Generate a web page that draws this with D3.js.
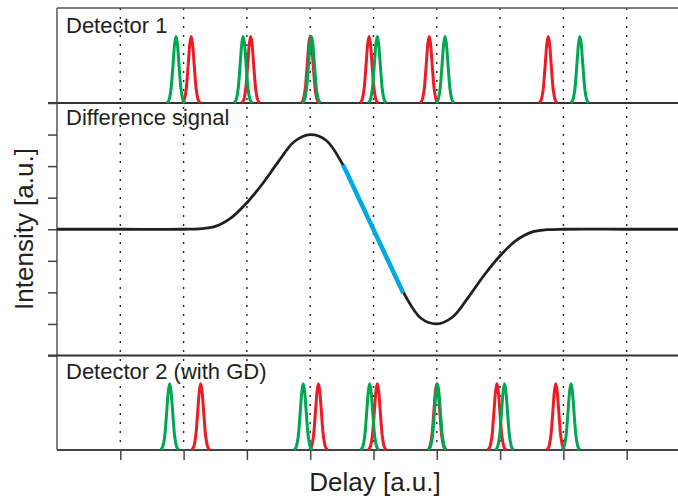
<!DOCTYPE html>
<html>
<head>
<meta charset="utf-8">
<script src="https://cdn.jsdelivr.net/npm/d3@7"></script>
<style>
  body { margin: 0; background: #fff; }
  svg { display: block; font-family: "Liberation Sans", Arial, sans-serif; }
  .label { fill: #231f20; }
</style>
</head>
<body>
<svg width="678" height="498"></svg>
<script>
// delay grid (dotted lines + bottom ticks)
const delayTicks = [1, 2, 3, 4, 5, 6, 7, 8, 9];
const intensityTicks = [-4, -3, -2, -1, 0, 1, 2, 3, 4];

// difference signal
const signalX = [0, 1, 2, 2.25, 2.5, 2.75, 3, 3.25, 3.5, 3.75, 4, 4.25, 4.5, 4.75, 5,
                 5.25, 5.5, 5.75, 6, 6.25, 6.5, 6.75, 7, 7.25, 7.5, 7.75, 8, 9, 10];
const signalY = [0, 0, 0, 0.015, 0.09, 0.36, 0.84, 1.45, 2.15, 2.78, 3.0, 2.82, 2.1, 1.05, 0,
                 -1.05, -2.1, -2.82, -3.0, -2.78, -2.15, -1.45, -0.84, -0.36, -0.09, -0.015, 0, 0, 0];
// linear part highlighted in blue
const linearX = [4.52, 5.47];
const linearY = [2.04, -2.02];

// pulse centres
const det1Green = [1.88, 2.94, 4.02, 5.06, 6.13, 8.26];
const det1Red   = [2.12, 3.06, 4.0, 4.93, 5.88, 7.76];
const det2Green = [1.78, 3.89, 4.94, 6.01, 7.07, 8.12];
const det2Red   = [2.27, 4.13, 5.06, 6.0, 6.95, 7.88];

// shape of one pulse (offset in delay units, relative height)
const pulseDx = [-0.14, -0.11, -0.08, -0.06, -0.04, -0.02, 0, 0.02, 0.04, 0.06, 0.08, 0.11, 0.14];
const pulseDy = [0, 0.05, 0.2, 0.41, 0.67, 0.9, 1, 0.9, 0.67, 0.41, 0.2, 0.05, 0];
const pulseHeight = 0.7;

const svg = d3.select("svg");
const left = 57, right = 690;
const top1 = 8, sep1 = 103, sep2 = 355.5, bottom = 450;

const x = d3.scaleLinear().domain([0, 10]).range([left, right]);
const yTop = d3.scaleLinear().domain([0, 1]).range([sep1, top1]);
const yMid = d3.scaleLinear().domain([-4, 4]).range([sep2, sep1]);
const yBot = d3.scaleLinear().domain([0, 1]).range([bottom, sep2]);

const red = "#ed1c24", green = "#00a651", ink = "#231f20";

// dotted grid lines
svg.append("g")
  .selectAll("line")
  .data(delayTicks)
  .join("line")
  .attr("x1", d => x(d)).attr("x2", d => x(d))
  .attr("y1", top1).attr("y2", bottom)
  .attr("stroke", "#222")
  .attr("stroke-width", 1.4)
  .attr("stroke-dasharray", "2,7");

// frame
svg.append("line").attr("x1", left).attr("x2", 678).attr("y1", top1).attr("y2", top1)
  .attr("stroke", "#555").attr("stroke-width", 1.5);
svg.append("line").attr("x1", left).attr("x2", left).attr("y1", top1).attr("y2", bottom)
  .attr("stroke", "#555").attr("stroke-width", 1.5);
[sep1, sep2].forEach(s => {
  svg.append("line").attr("x1", 48).attr("x2", 678).attr("y1", s).attr("y2", s)
    .attr("stroke", "#333").attr("stroke-width", 2);
});
svg.append("line").attr("x1", left).attr("x2", 678).attr("y1", bottom).attr("y2", bottom)
  .attr("stroke", "#444").attr("stroke-width", 1.8);

// bottom axis ticks
const xAxis = svg.append("g")
  .attr("transform", `translate(0,${bottom})`)
  .call(d3.axisBottom(x).tickValues(delayTicks).tickSize(10).tickFormat(""));
xAxis.select(".domain").remove();
xAxis.selectAll(".tick line").attr("stroke", "#444").attr("stroke-width", 1.5);

// left axis ticks on the middle panel
const yAxis = svg.append("g")
  .attr("transform", `translate(${left},0)`)
  .call(d3.axisLeft(yMid).tickValues(intensityTicks).tickSize(9).tickFormat(""));
yAxis.select(".domain").remove();
yAxis.selectAll(".tick line").attr("stroke", "#444").attr("stroke-width", 1.5);

// pulses
function drawPulses(centres, yScale, color) {
  const line = d3.line()
    .x(p => x(p[0]))
    .y(p => yScale(p[1]))
    .curve(d3.curveCatmullRom.alpha(0.5));
  svg.append("g")
    .selectAll("path")
    .data(centres)
    .join("path")
    .attr("d", c => line(pulseDx.map((dx, i) => [c + dx, pulseDy[i] * pulseHeight])))
    .attr("fill", "none")
    .attr("stroke", color)
    .attr("stroke-width", 3)
    .attr("stroke-linejoin", "round");
}
drawPulses(det1Red, yTop, red);
drawPulses(det1Green, yTop, green);
drawPulses(det2Red, yBot, red);
drawPulses(det2Green, yBot, green);

// difference signal
const sigLine = d3.line()
  .x(d => x(d[0]))
  .y(d => yMid(d[1]))
  .curve(d3.curveCatmullRom.alpha(0.5));
svg.append("path")
  .datum(signalX.map((v, i) => [v, signalY[i]]))
  .attr("d", sigLine)
  .attr("fill", "none")
  .attr("stroke", ink)
  .attr("stroke-width", 2.8);

svg.append("path")
  .datum(linearX.map((v, i) => [v, linearY[i]]))
  .attr("d", d3.line().x(d => x(d[0])).y(d => yMid(d[1])))
  .attr("fill", "none")
  .attr("stroke", "#00a9e6")
  .attr("stroke-width", 4.5);

// panel labels
svg.append("text").attr("class", "label").attr("x", 66).attr("y", 33)
  .style("font-size", "22px").text("Detector 1");
svg.append("text").attr("class", "label").attr("x", 66).attr("y", 125)
  .style("font-size", "22px").text("Difference signal");
svg.append("text").attr("class", "label").attr("x", 66).attr("y", 379)
  .style("font-size", "22px").text("Detector 2 (with GD)");

// axis titles
svg.append("text").attr("class", "label")
  .attr("x", 375).attr("y", 491)
  .attr("text-anchor", "middle")
  .style("font-size", "26px").text("Delay [a.u.]");
svg.append("text").attr("class", "label")
  .attr("transform", `translate(33,229) rotate(-90)`)
  .attr("text-anchor", "middle")
  .style("font-size", "26px").text("Intensity [a.u.]");
</script>
</body>
</html>
